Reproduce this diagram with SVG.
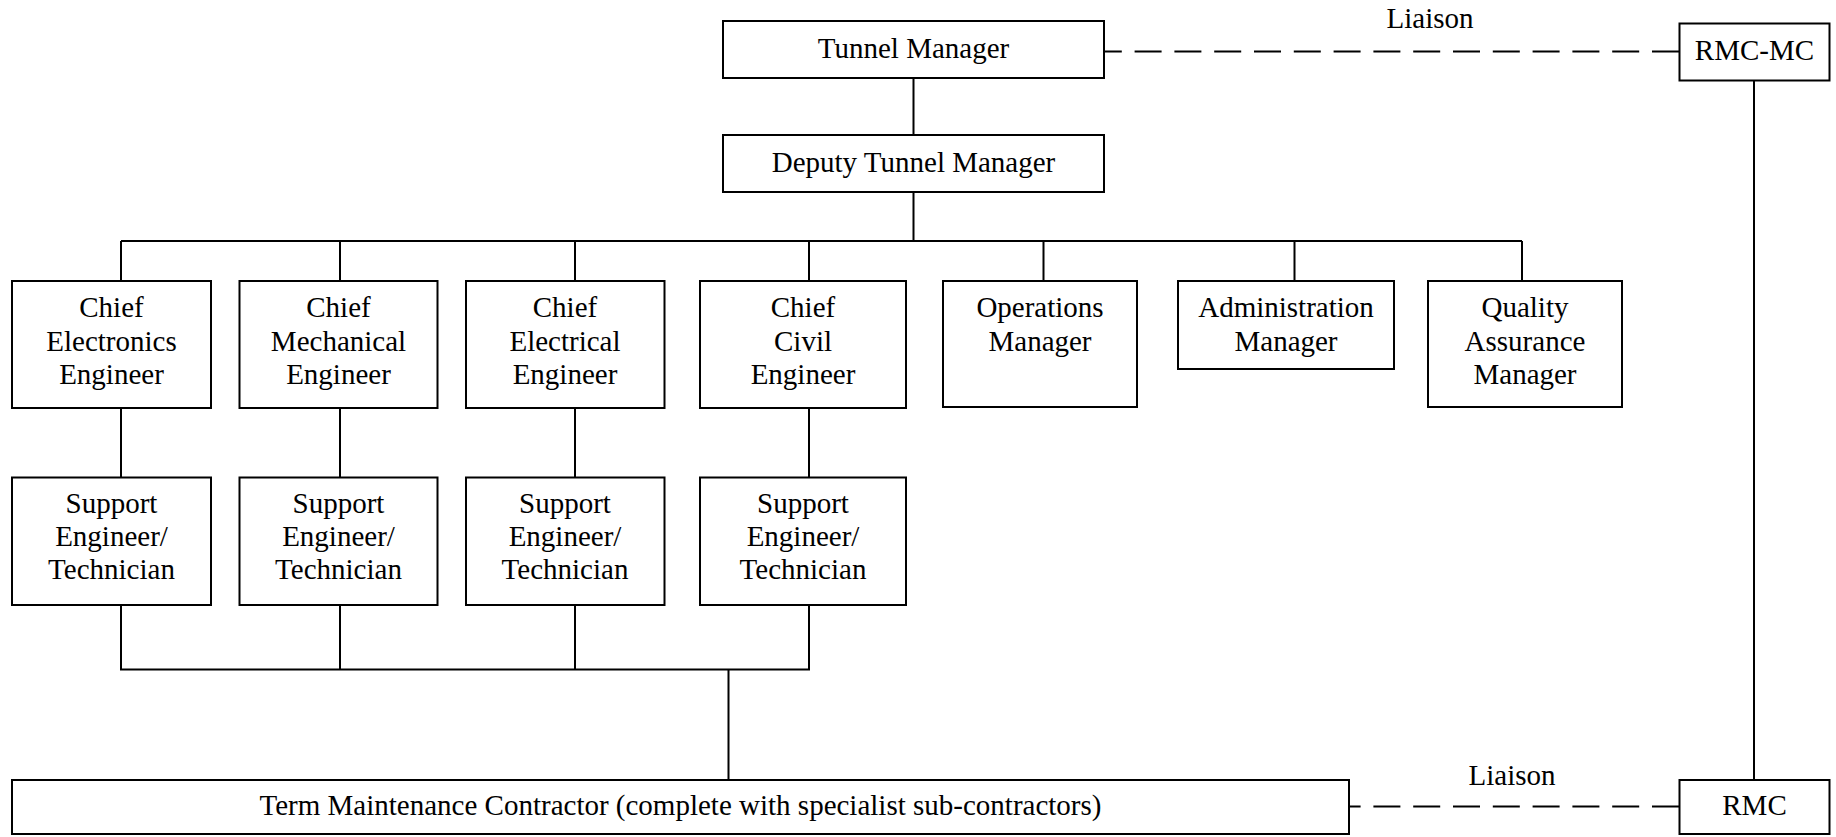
<svg xmlns="http://www.w3.org/2000/svg" width="1836" height="837" viewBox="0 0 1836 837">
<style>
.box{fill:#fff;stroke:#000;stroke-width:2}
.ln{fill:none;stroke:#000;stroke-width:2}
.dash{fill:none;stroke:#000;stroke-width:2;stroke-dasharray:27 12.8}
text{font-family:"Liberation Serif","Times New Roman",serif;font-size:29px;fill:#000;text-anchor:middle}
</style>
<rect width="1836" height="837" fill="#fff"/>
<g id="connectors">
<path class="ln" d="M913.5 78V135M913.5 192V241M121 241H1522M121 241V281M340 241V281M575 241V281M809 241V281M1043.5 241V281M1294.5 241V281M1522 241V281"/>
<path class="ln" d="M121 408V477M340 408V477M575 408V477M809 408V477"/>
<path class="ln" d="M121 605V669.5H810M340 605V669.5M575 605V669.5M809 605V669.5M728.5 669.5V780"/>
<path class="ln" d="M1754 80.5V780"/>
<path class="dash" d="M1679 51.5H1104"/>
<path class="dash" d="M1679 806.5H1349"/>
<text x="1430" y="28">Liaison</text>
<text x="1512" y="785">Liaison</text>
</g>
<g id="tunnel-manager"><rect class="box" x="723" y="21" width="381" height="57"/><text x="913.5" y="58">Tunnel Manager</text></g>
<g id="deputy-tunnel-manager"><rect class="box" x="723" y="135" width="381" height="57"/><text x="913.5" y="172">Deputy Tunnel Manager</text></g>
<g id="rmc-mc"><rect class="box" x="1679.5" y="23.5" width="150" height="57"/><text x="1754.5" y="60">RMC-MC</text></g>
<g id="chief-electronics"><rect class="box" x="12" y="281" width="199" height="127"/><text x="111.5" y="317">Chief</text><text x="111.5" y="350.5">Electronics</text><text x="111.5" y="384">Engineer</text></g>
<g id="chief-mechanical"><rect class="box" x="239.5" y="281" width="198" height="127"/><text x="338.5" y="317">Chief</text><text x="338.5" y="350.5">Mechanical</text><text x="338.5" y="384">Engineer</text></g>
<g id="chief-electrical"><rect class="box" x="466" y="281" width="198.5" height="127"/><text x="565" y="317">Chief</text><text x="565" y="350.5">Electrical</text><text x="565" y="384">Engineer</text></g>
<g id="chief-civil"><rect class="box" x="700" y="281" width="206" height="127"/><text x="803" y="317">Chief</text><text x="803" y="350.5">Civil</text><text x="803" y="384">Engineer</text></g>
<g id="operations-manager"><rect class="box" x="943" y="281" width="194" height="126"/><text x="1040" y="317">Operations</text><text x="1040" y="350.5">Manager</text></g>
<g id="administration-manager"><rect class="box" x="1178" y="281" width="216" height="88"/><text x="1286" y="317">Administration</text><text x="1286" y="350.5">Manager</text></g>
<g id="quality-assurance-manager"><rect class="box" x="1428" y="281" width="194" height="126"/><text x="1525" y="317">Quality</text><text x="1525" y="350.5">Assurance</text><text x="1525" y="384">Manager</text></g>
<g id="support-electronics"><rect class="box" x="12" y="477.5" width="199" height="127.5"/><text x="111.5" y="513">Support</text><text x="111.5" y="546">Engineer/</text><text x="111.5" y="579">Technician</text></g>
<g id="support-mechanical"><rect class="box" x="239.5" y="477.5" width="198" height="127.5"/><text x="338.5" y="513">Support</text><text x="338.5" y="546">Engineer/</text><text x="338.5" y="579">Technician</text></g>
<g id="support-electrical"><rect class="box" x="466" y="477.5" width="198.5" height="127.5"/><text x="565" y="513">Support</text><text x="565" y="546">Engineer/</text><text x="565" y="579">Technician</text></g>
<g id="support-civil"><rect class="box" x="700" y="477.5" width="206" height="127.5"/><text x="803" y="513">Support</text><text x="803" y="546">Engineer/</text><text x="803" y="579">Technician</text></g>
<g id="term-maintenance-contractor"><rect class="box" x="12" y="780" width="1337" height="54"/><text x="680.5" y="815">Term Maintenance Contractor (complete with specialist sub-contractors)</text></g>
<g id="rmc"><rect class="box" x="1679.5" y="780" width="150" height="54"/><text x="1754.5" y="815">RMC</text></g>
</svg>
